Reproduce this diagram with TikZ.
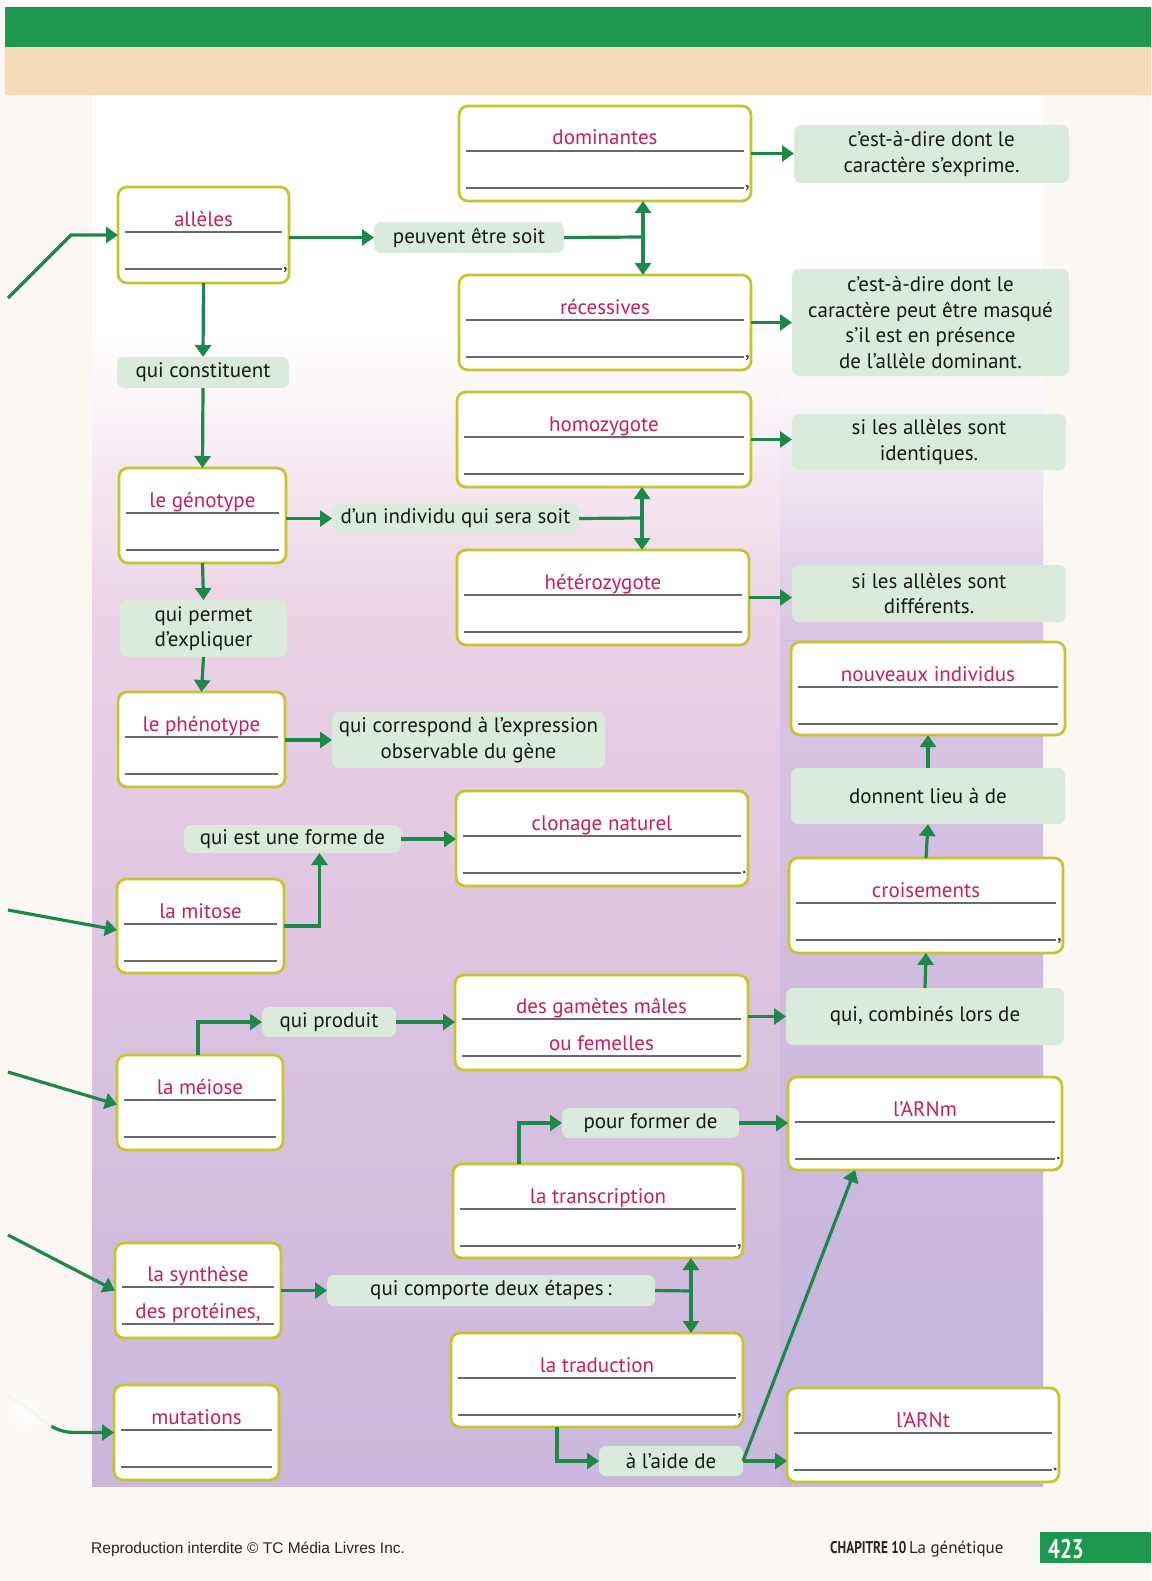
\documentclass[tikz,border=0pt]{standalone}
\usepackage{fontspec}
\setmainfont{PT Sans}
\newfontfamily\footfont{Liberation Sans}
\newfontfamily\condfont[FakeStretch=0.78]{PT Sans}
\usetikzlibrary{arrows.meta,calc}
\definecolor{arrgreen}{RGB}{30,136,74}
\definecolor{boxline}{RGB}{196,198,48}
\definecolor{titlered}{RGB}{198,30,96}
\definecolor{callfill}{RGB}{218,234,219}
\definecolor{rulegray}{RGB}{105,105,105}
\definecolor{bandgreen}{RGB}{30,152,78}
\definecolor{bandbeige}{RGB}{245,220,182}
\definecolor{pagecream}{RGB}{251,248,243}
\definecolor{panelpink}{RGB}{236,210,228}
\definecolor{panelmauve}{RGB}{220,194,224}
\definecolor{panelpurple}{RGB}{202,184,220}
\definecolor{lav}{RGB}{190,178,222}
\newcommand\cfont{\fontsize{21}{25.5}\selectfont}
\newcommand\ansbox[7]{%
  \pgfmathsetmacro\bw{#4-#2}\pgfmathsetmacro\bh{#5-#3}%
  \pgfmathsetmacro\bx{(#2+#4)/2}\pgfmathsetmacro\by{(#3+#5)/2}%
  \node[abox, minimum width=\bw pt, minimum height=\bh pt] (#1) at (\bx,\by) {};
  \draw[rul] ([shift={(7,45)}]#1.north west) -- ([shift={(-7,45)}]#1.north east);
  \draw[rul] ([shift={(7,82)}]#1.north west) -- ([shift={(-7,82)}]#1.north east) node[pct] {#7};
  \node[ttl] (#1t) at ([shift={(0,39)}]#1.north) {#6};
}
\newcommand\ansboxii[7]{%
  \pgfmathsetmacro\bw{#4-#2}\pgfmathsetmacro\bh{#5-#3}%
  \pgfmathsetmacro\bx{(#2+#4)/2}\pgfmathsetmacro\by{(#3+#5)/2}%
  \node[abox, minimum width=\bw pt, minimum height=\bh pt] (#1) at (\bx,\by) {};
  \draw[rul] ([shift={(7,44)}]#1.north west) -- ([shift={(-7,44)}]#1.north east);
  \draw[rul] ([shift={(7,81)}]#1.north west) -- ([shift={(-7,81)}]#1.north east);
  \node[ttl] (#1t) at ([shift={(0,38)}]#1.north) {#6};
  \node[ttl] (#1u) at ([shift={(0,75)}]#1.north) {#7};
}
\newcommand\callout[6]{%
  \pgfmathsetmacro\bw{#4-#2}\pgfmathsetmacro\bh{#5-#3}%
  \pgfmathsetmacro\bx{(#2+#4)/2}\pgfmathsetmacro\by{(#3+#5)/2}%
  \node[cbox, minimum width=\bw pt, minimum height=\bh pt] (#1) at (\bx,\by) {#6};
}
\begin{document}
\begin{tikzpicture}[x=1pt,y=-1pt,
  abox/.style={draw=boxline, line width=2.8pt, fill=white, rounded corners=9pt, inner sep=0pt, outer sep=0pt},
  cbox/.style={fill=callfill, rounded corners=7pt, inner sep=0pt, outer sep=0pt, align=center, font=\cfont, text=black!90},
  ttl/.style={anchor=base, inner sep=0pt, font=\cfont, text=titlered},
  rul/.style={draw=rulegray, line width=1.3pt},
  pct/.style={anchor=base west, inner sep=0.5pt, font=\cfont, text=black!80},
  conn/.style={draw=arrgreen, line width=3.2pt},
  arr/.style={conn, -{Triangle[length=12pt,width=16pt]}},
  darr/.style={conn, {Triangle[length=12pt,width=16pt]}-{Triangle[length=12pt,width=16pt]}}]
\useasboundingbox (0,0) rectangle (1151,1581);
% backgrounds
\fill[pagecream] (0,0) rectangle (1151,1581);
\fill[white] (0,0) rectangle (1151,7);
\fill[bandgreen] (5,7) rectangle (1151,47);
\fill[bandbeige] (5,47) rectangle (1151,95);
\fill[white] (92,95) rectangle (1043,330);
\shade[top color=white, bottom color=panelpink] (92,330) rectangle (1043,620);
\shade[top color=panelpink, bottom color=panelmauve] (92,620) rectangle (1043,1000);
\shade[top color=panelmauve, bottom color=panelpurple] (92,1000) rectangle (1043,1486);
\shade[top color=white, bottom color=lav, opacity=0.4] (780,380) rectangle (1043,640);
\fill[lav, opacity=0.4] (780,640) rectangle (1043,1486);
% boxes
\ansbox{allel}{118}{187}{289}{283}{allèles}{,}
\ansbox{domin}{459}{106}{751}{201}{dominantes}{,}
\ansbox{recess}{459}{275}{751}{370}{récessives}{,}
\ansbox{homo}{457}{392}{751}{487}{homozygote}{}
\ansbox{hetero}{457}{550}{749}{645}{hétérozygote}{}
\ansbox{geno}{119}{468}{286}{563}{le génotype}{}
\ansbox{pheno}{118}{692}{285}{787}{le phénotype}{}
\ansbox{mitose}{117}{879}{284}{973}{la mitose}{}
\ansbox{meiose}{117}{1055}{283}{1150}{la méiose}{}
\ansboxii{synth}{115}{1243}{281}{1338}{la synthèse}{des protéines,}
\ansbox{mutat}{114}{1385}{279}{1480}{mutations}{}
\ansbox{clonage}{456}{791}{748}{886}{clonage naturel}{.}
\ansboxii{gamet}{455}{975}{748}{1070}{des gamètes mâles}{ou femelles}
\ansbox{transc}{453}{1164}{743}{1258}{la transcription}{,}
\ansbox{tradu}{451}{1333}{743}{1427}{la traduction}{,}
\ansbox{nouv}{791}{642}{1065}{735}{nouveaux individus}{}
\ansbox{crois}{789}{858}{1063}{953}{croisements}{,}
\ansbox{arnm}{788}{1077}{1062}{1170}{l’ARNm}{.}
\ansbox{arnt}{787}{1388}{1059}{1482}{l’ARNt}{.}
% callouts
\callout{peuvent}{374}{222}{564}{253}{peuvent être soit}
\callout{cestdom}{794}{125}{1069}{183}{c’est-à-dire dont le\\caractère s’exprime.}
\callout{cestrec}{792}{269}{1069}{376}{c’est-à-dire dont le\\caractère peut être masqué\\s’il est en présence\\de l’allèle dominant.}
\callout{constit}{117}{357}{289}{388}{qui constituent}
\callout{individu}{332}{504}{579}{533}{d’un individu qui sera soit}
\callout{ident}{792}{414}{1066}{470}{si les allèles sont\\identiques.}
\callout{diff}{792}{565}{1066}{622}{si les allèles sont\\différents.}
\callout{permet}{120}{600}{287}{657}{qui permet\\d’expliquer}
\callout{corresp}{332}{712}{605}{768}{qui correspond à l’expression\\observable du gène}
\callout{donnent}{791}{768}{1065}{824}{donnent lieu à de}
\callout{forme}{184}{825}{401}{853}{qui est une forme de}
\callout{combin}{786}{988}{1064}{1045}{qui, combinés lors de}
\callout{produit}{262}{1007}{396}{1037}{qui produit}
\callout{former}{562}{1108}{739}{1138}{pour former de}
\callout{comporte}{327}{1275}{655}{1306}{qui comporte deux étapes\,:}
\callout{aide}{599}{1446}{743}{1476}{à l’aide de}
% junction points and free ends
\coordinate (sp1) at (643,237);
\coordinate (sp2) at (642,518);
\coordinate (sp3) at (691,1291);
\coordinate (inA) at (8,298);
\coordinate (inAk) at (71,235);
\coordinate (inB) at (8,910);
\coordinate (inC) at (8,1072);
\coordinate (inD) at (8,1235);
\coordinate (inE) at (8,1397);
\coordinate (inEk) at (75,1432.5);
% connectors
\draw[arr] (inA) -- (inAk) -- (allel.west);
\draw[arr] (allel.east |- peuvent.west) -- (peuvent.west);
\draw[conn] (peuvent.east) -- (sp1);
\draw[darr] (sp1 |- domin.south) -- (sp1 |- recess.north);
\draw[arr] (domin.east) -- (cestdom.west |- domin.east);
\draw[arr] (recess.east) -- (cestrec.west |- recess.east);
\draw[arr] (allel.south) -- (constit.north);
\draw[arr] (constit.south) -- (geno.north);
\draw[arr] (geno.east |- individu.west) -- (individu.west);
\draw[conn] (individu.east) -- (sp2);
\draw[darr] (sp2 |- homo.south) -- (sp2 |- hetero.north);
\draw[arr] (homo.east) -- (ident.west |- homo.east);
\draw[arr] (hetero.east) -- (diff.west |- hetero.east);
\draw[arr] (geno.south) -- (permet.north);
\draw[arr] (permet.south) -- (pheno.north);
\draw[arr] (pheno.east |- corresp.west) -- (corresp.west);
\draw[arr] (inB) -- ([yshift=-4pt]mitose.west);
\draw[arr] (mitose.east) -| ([xshift=27pt]forme.south);
\draw[arr] (forme.east) -- (clonage.west |- forme.east);
\draw[arr] (inC) -- ([yshift=-2pt]meiose.west);
\draw[arr] ([xshift=-2pt]meiose.north) |- (produit.west);
\draw[arr] (produit.east) -- (gamet.west |- produit.east);
\draw[arr] (gamet.east |- combin.west) -- (combin.west);
\draw[arr] (combin.north) -- (crois.south);
\draw[arr] (crois.north) -- (donnent.south);
\draw[arr] (donnent.north) -- (nouv.south);
\draw[arr] ([xshift=-79pt]transc.north) |- (former.west);
\draw[arr] (former.east) -- (arnm.west |- former.east);
\draw[arr] (inD) -- (synth.west);
\draw[arr] (synth.east) -- (comporte.west);
\draw[conn] (comporte.east) -- (sp3);
\draw[darr] (sp3 |- transc.south) -- (sp3 |- tradu.north);
\draw[arr] ([xshift=-40pt]tradu.south) |- (aide.west);
\draw[arr] (aide.east) -- (arnt.west |- aide.east);
\draw[arr] (aide.east) -- ([xshift=-70pt]arnm.south);
\draw[arr] (inE) .. controls (40,1410) and (45,1432.5) .. (inEk) -- (mutat.west);
\shade[inner color=white, outer color=pagecream, opacity=0.95] (24,1414) circle[radius=30pt];
% footer
\node[anchor=base west, inner sep=0pt, font=\footfont\fontsize{15.5}{18}\selectfont, text=black!85] (foot1) at (91,1553) {Reproduction interdite © TC Média Livres Inc.};
\node[anchor=base west, inner sep=0pt, text=black!85] (foot2) at (830,1553) {{\condfont\bfseries\fontsize{17}{20}\selectfont CHAPITRE 10}\ {\fontsize{17}{20}\selectfont La génétique}};
\fill[bandgreen] (1040,1532) rectangle (1151,1563);
\node[anchor=base, inner sep=0pt, text=white, font=\condfont\bfseries\fontsize{27}{30}\selectfont] (page) at (1066,1558) {423};
\end{tikzpicture}
\end{document}
